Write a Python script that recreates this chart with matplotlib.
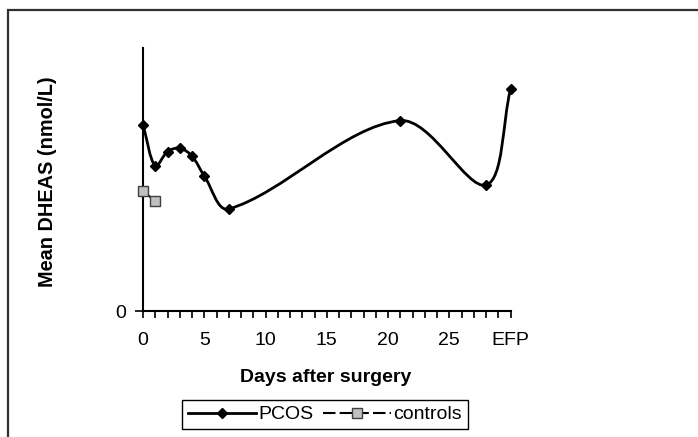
import numpy as np
import matplotlib
matplotlib.use('Agg')
import matplotlib.pyplot as plt
from matplotlib.path import Path
from matplotlib.patches import PathPatch, Rectangle
from matplotlib.lines import Line2D

plt.rcParams['font.family'] = ['Liberation Sans', 'DejaVu Sans']

# data (EFP plotted at position 30)
pcos_day   = [0, 1, 2, 3, 4, 5, 7, 21, 28, 30]
pcos_dheas = [7.08, 5.51, 6.06, 6.19, 5.89, 5.14, 3.88, 7.24, 4.79, 8.43]
ctrl_day   = [0, 1]
ctrl_dheas = [4.55, 4.19]

tick_pos = [0, 5, 10, 15, 20, 25, 30]
tick_lab = ['0', '5', '10', '15', '20', '25', 'EFP']


def smooth_path(ax, x, y):
    # excel-like smoothed line: cubic bezier through every point,
    # handle lengths weighted by chord length measured on screen
    pts = np.column_stack([x, y]).astype(float)
    scr = ax.transData.transform(pts)
    n = len(pts)
    d = np.hypot(*np.diff(scr, axis=0).T)
    verts = [pts[0]]
    codes = [Path.MOVETO]
    for i in range(n - 1):
        if i > 0:
            t = pts[i + 1] - pts[i - 1]
            c1 = pts[i] + t * d[i] / (d[i - 1] + d[i]) / 3
        else:
            c1 = pts[i] + (pts[i + 1] - pts[i]) / 3
        if i + 2 < n:
            t = pts[i + 2] - pts[i]
            c2 = pts[i + 1] - t * d[i] / (d[i] + d[i + 1]) / 3
        else:
            c2 = pts[i + 1] - (pts[i + 1] - pts[i]) / 3
        verts += [c1, c2, pts[i + 1]]
        codes += [Path.CURVE4] * 3
    return Path(verts, codes)


W, H = 698, 437
fig = plt.figure(figsize=(W / 100, H / 100), dpi=100)
ax = fig.add_axes([143 / W, 1 - 311 / H, (510.5 - 143) / W, (311 - 48) / H])
ax.set_xlim(0, 30)
ax.set_ylim(0, 10)

# chart border
fig.patches.append(Rectangle((8 / W, -0.05), 1.1, 1 - 10 / H + 0.05,
                             transform=fig.transFigure, fill=False,
                             edgecolor='#303030', lw=1.6))

ax.add_patch(PathPatch(smooth_path(ax, pcos_day, pcos_dheas), fill=False,
                       edgecolor='black', lw=2, zorder=3, clip_on=False))
ax.plot(pcos_day, pcos_dheas, ls='none', marker='D', ms=5.5, color='black',
        zorder=4, clip_on=False)

ax.add_patch(PathPatch(smooth_path(ax, ctrl_day, ctrl_dheas), fill=False,
                       edgecolor='black', lw=1.5, ls=(0, (6, 2)), zorder=3))
ax.plot(ctrl_day, ctrl_dheas, ls='none', marker='s', ms=7, mfc='#c0c0c0',
        mec='#404040', mew=1, zorder=4, clip_on=False)

ax.set_xticks(range(0, 31))
ax.set_xticklabels([tick_lab[tick_pos.index(d)] if d in tick_pos else '' for d in range(31)],
                   fontsize=14)
ax.set_yticks([0])
ax.set_yticklabels(['0'], fontsize=14)
ax.tick_params(axis='x', direction='out', length=5, width=1.2, pad=10)
ax.tick_params(axis='y', direction='out', length=6, width=1.2, pad=6)

for s in ['top', 'right']:
    ax.spines[s].set_visible(False)
for s in ['left', 'bottom']:
    ax.spines[s].set_linewidth(1.5)

fig.text(326 / W, 1 - 378 / H, 'Days after surgery', ha='center', va='center',
         fontsize=14, fontweight='bold')
fig.text(48 / W, 1 - 182 / H, 'Mean DHEAS (nmol/L)', ha='center', va='center',
         rotation=90, fontsize=14.3, fontweight='bold')

handles = [
    Line2D([], [], color='black', lw=2, marker='D', ms=5.5),
    Line2D([], [], color='black', lw=1.5, ls=(0, (6, 2)), marker='s', ms=7,
           mfc='#c0c0c0', mec='#404040'),
]
fig.legend(handles, ['PCOS', 'controls'], loc='upper center',
           bbox_to_anchor=(325 / W, 1 - 400 / H), ncol=2, fontsize=14,
           frameon=True, fancybox=False, edgecolor='black', framealpha=1,
           handlelength=3.5, handletextpad=0.1, columnspacing=0.5,
           borderpad=0.3, borderaxespad=0)

fig.savefig('out.png', dpi=100)
